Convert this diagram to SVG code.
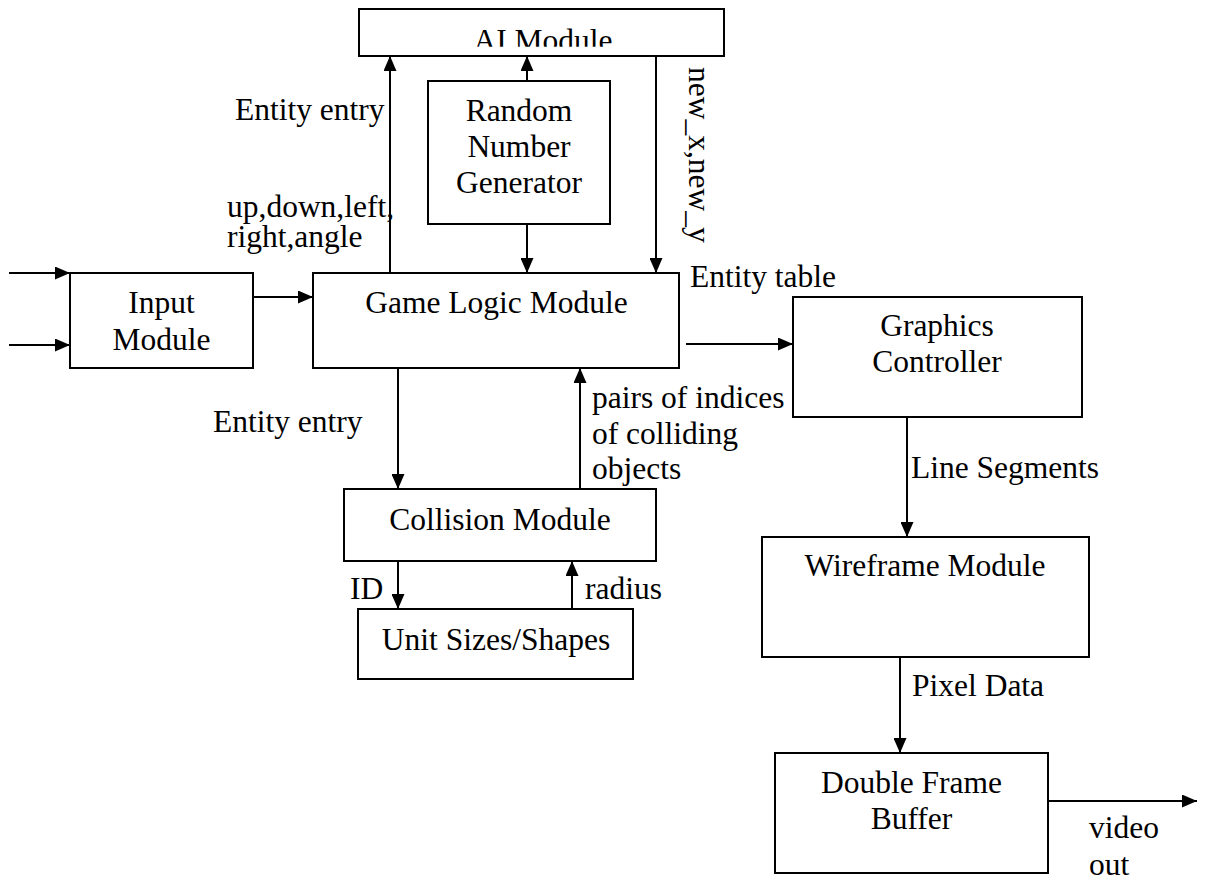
<svg xmlns="http://www.w3.org/2000/svg" width="1218" height="884" viewBox="0 0 1218 884">
  <defs>
    <style>
      .box { fill: #fff; stroke: #000; stroke-width: 2; }
      .t { font-family: "Liberation Serif", "Times New Roman", serif; font-size: 31.5px; fill: #000; }
      .c { text-anchor: middle; }
      .edge { stroke: #000; stroke-width: 2; fill: none; marker-end: url(#arrow); }
    </style>
    <marker id="arrow" markerUnits="userSpaceOnUse" markerWidth="15" markerHeight="13" refX="15" refY="6.5" orient="auto">
      <path d="M0,0 L15,6.5 L0,13 z" fill="#000"/>
    </marker>
    <!-- the AI Module caption overflows its box and is cut short at the bottom -->
    <clipPath id="aiClip">
      <rect x="359" y="9" width="365" height="37.7"/>
    </clipPath>
  </defs>
  <rect width="1218" height="884" fill="#fff"/>

  <g id="connectors">
    <line class="edge" x1="9" y1="273" x2="70" y2="273"/>
    <line class="edge" x1="9" y1="345" x2="70" y2="345"/>
    <line class="edge" x1="253" y1="297" x2="313" y2="297"/>
    <line class="edge" x1="390" y1="273" x2="390" y2="56"/>
    <line class="edge" x1="527" y1="81" x2="527" y2="56"/>
    <line class="edge" x1="527" y1="224" x2="527" y2="273"/>
    <line class="edge" x1="656" y1="56" x2="656" y2="273"/>
    <line class="edge" x1="686" y1="344" x2="793" y2="344"/>
    <line class="edge" x1="398" y1="368" x2="398" y2="489"/>
    <line class="edge" x1="580" y1="489" x2="580" y2="368"/>
    <line class="edge" x1="398" y1="561" x2="398" y2="609"/>
    <line class="edge" x1="572" y1="609" x2="572" y2="561"/>
    <line class="edge" x1="907" y1="417" x2="907" y2="537"/>
    <line class="edge" x1="900" y1="657" x2="900" y2="753"/>
    <line class="edge" x1="1048" y1="801" x2="1197" y2="801"/>
  </g>

  <g id="labels">
    <text class="t" x="235" y="120">Entity entry</text>
    <text class="t" x="227" y="217">up,down,left,</text>
    <text class="t" x="227" y="247">right,angle</text>
    <text class="t" transform="translate(689,67) rotate(90)">new_x,new_y</text>
    <text class="t" x="690" y="287">Entity table</text>
    <text class="t" x="213" y="432">Entity entry</text>
    <text class="t" x="592" y="408">pairs of indices</text>
    <text class="t" x="592" y="443.5">of colliding</text>
    <text class="t" x="592" y="479">objects</text>
    <text class="t" x="350" y="599">ID</text>
    <text class="t" x="585" y="599">radius</text>
    <text class="t" x="911" y="478">Line Segments</text>
    <text class="t" x="912" y="696">Pixel Data</text>
    <text class="t" x="1089" y="838">video</text>
    <text class="t" x="1089" y="875">out</text>
  </g>

  <g id="ai-module">
    <rect class="box" x="359" y="9" width="365" height="47"/>
    <text class="t c" x="543" y="51" clip-path="url(#aiClip)">AI Module</text>
  </g>

  <g id="random-number-generator">
    <rect class="box" x="428" y="81" width="182" height="143"/>
    <text class="t c" x="519" y="121">Random</text>
    <text class="t c" x="519" y="157">Number</text>
    <text class="t c" x="519" y="193">Generator</text>
  </g>

  <g id="input-module">
    <rect class="box" x="70" y="273" width="183" height="95"/>
    <text class="t c" x="161.5" y="313">Input</text>
    <text class="t c" x="161.5" y="350">Module</text>
  </g>

  <g id="game-logic-module">
    <rect class="box" x="313" y="273" width="366" height="95"/>
    <text class="t c" x="496.5" y="313">Game Logic Module</text>
  </g>

  <g id="graphics-controller">
    <rect class="box" x="793" y="297" width="289" height="120"/>
    <text class="t c" x="937" y="336">Graphics</text>
    <text class="t c" x="937" y="372">Controller</text>
  </g>

  <g id="collision-module">
    <rect class="box" x="344" y="489" width="312" height="72"/>
    <text class="t c" x="500" y="530">Collision Module</text>
  </g>

  <g id="unit-sizes-shapes">
    <rect class="box" x="358" y="609" width="275" height="70"/>
    <text class="t c" x="496" y="650">Unit Sizes/Shapes</text>
  </g>

  <g id="wireframe-module">
    <rect class="box" x="762" y="537" width="327" height="120"/>
    <text class="t c" x="925" y="576">Wireframe Module</text>
  </g>

  <g id="double-frame-buffer">
    <rect class="box" x="775" y="753" width="273" height="120"/>
    <text class="t c" x="911.5" y="793">Double Frame</text>
    <text class="t c" x="911.5" y="829">Buffer</text>
  </g>
</svg>
